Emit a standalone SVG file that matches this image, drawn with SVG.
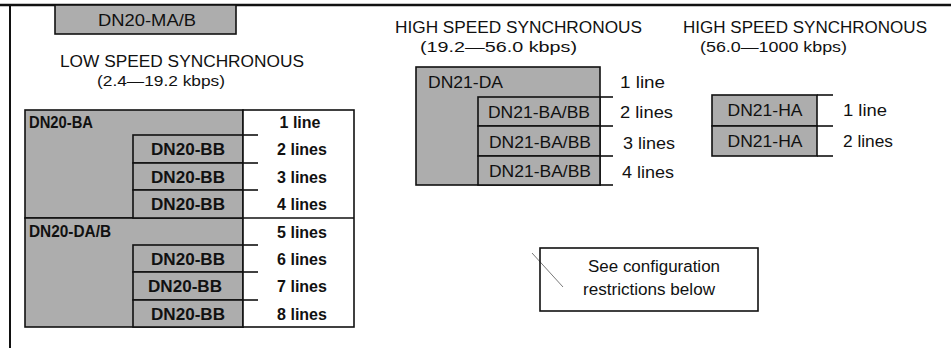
<svg xmlns="http://www.w3.org/2000/svg" width="951" height="348" viewBox="0 0 951 348">
<style>
.g{fill:#adadad;stroke:#111;stroke-width:1.6}
.w{fill:#fff;stroke:#111;stroke-width:1.6}
.ln{stroke:#111;stroke-width:1.6;fill:none}
text{font-family:"Liberation Sans",Arial,sans-serif;fill:#111}
.h{font-size:16px}
.s{font-size:15px}
.b{font-size:16px;font-weight:bold}
.r{font-size:16px}
.c{text-anchor:middle}
</style>
<rect width="951" height="348" fill="#fff"/>
<g id="frame">
<line x1="0" y1="5" x2="951" y2="5" stroke="#111" stroke-width="2.5"/>
<line x1="10" y1="4" x2="10" y2="348" stroke="#111" stroke-width="2"/>
</g>
<g id="dn20-ma">
<rect class="g" x="55" y="5" width="181" height="29"/>
<text class="r c" x="147" y="26" textLength="98" lengthAdjust="spacingAndGlyphs">DN20-MA/B</text>
</g>
<g id="headings">
<text class="h" x="60" y="67" textLength="244" lengthAdjust="spacingAndGlyphs">LOW SPEED SYNCHRONOUS</text>
<text class="s" x="97" y="86" textLength="128" lengthAdjust="spacingAndGlyphs">(2.4—19.2 kbps)</text>
<text class="h" x="395" y="33" textLength="247" lengthAdjust="spacingAndGlyphs">HIGH SPEED SYNCHRONOUS</text>
<text class="s" x="420" y="52" textLength="157" lengthAdjust="spacingAndGlyphs">(19.2—56.0 kbps)</text>
<text class="h" x="683" y="33" textLength="244" lengthAdjust="spacingAndGlyphs">HIGH SPEED SYNCHRONOUS</text>
<text class="s" x="700" y="52" textLength="147" lengthAdjust="spacingAndGlyphs">(56.0—1000 kbps)</text>
</g>
<g id="dn20-ba">
<rect class="g" x="25" y="110" width="218" height="108"/>
<text class="b" x="29" y="128" textLength="64" lengthAdjust="spacingAndGlyphs">DN20-BA</text>
</g>
<g id="dn20-da">
<rect class="g" x="25" y="218" width="218" height="109"/>
<text class="b" x="29" y="237" textLength="82" lengthAdjust="spacingAndGlyphs">DN20-DA/B</text>
</g>
<g id="dn20-bb-1"><rect class="g" x="133" y="135" width="110" height="28"/><text class="b c" x="188" y="155" textLength="74" lengthAdjust="spacingAndGlyphs">DN20-BB</text></g>
<g id="dn20-bb-2"><rect class="g" x="133" y="163" width="110" height="27"/><text class="b c" x="188" y="183" textLength="74" lengthAdjust="spacingAndGlyphs">DN20-BB</text></g>
<g id="dn20-bb-3"><rect class="g" x="133" y="190" width="110" height="28"/><text class="b c" x="188" y="210" textLength="74" lengthAdjust="spacingAndGlyphs">DN20-BB</text></g>
<g id="dn20-bb-4"><rect class="g" x="133" y="245" width="110" height="27"/><text class="b c" x="188" y="265" textLength="74" lengthAdjust="spacingAndGlyphs">DN20-BB</text></g>
<g id="dn20-bb-5"><rect class="g" x="133" y="272" width="110" height="28"/><text class="b c" x="185" y="292" textLength="74" lengthAdjust="spacingAndGlyphs">DN20-BB</text></g>
<g id="dn20-bb-6"><rect class="g" x="133" y="300" width="110" height="27"/><text class="b c" x="188" y="320" textLength="74" lengthAdjust="spacingAndGlyphs">DN20-BB</text></g>
<g id="lines-col">
<rect class="w" x="243" y="110" width="111" height="217"/>
<line class="ln" x1="243" y1="218" x2="354" y2="218"/>
<text class="b c" x="300" y="128">1 line</text>
<text class="b c" x="302" y="155">2 lines</text>
<text class="b c" x="302" y="183">3 lines</text>
<text class="b c" x="302" y="210">4 lines</text>
<text class="b c" x="302" y="238">5 lines</text>
<text class="b c" x="302" y="265">6 lines</text>
<text class="b c" x="302" y="292">7 lines</text>
<text class="b c" x="302" y="320">8 lines</text>
</g>
<g id="dn21-da">
<rect class="g" x="416" y="67" width="184" height="118"/>
<text class="r" x="428" y="88" textLength="75" lengthAdjust="spacingAndGlyphs">DN21-DA</text>
</g>
<g id="dn21-ba-1"><rect class="g" x="478" y="97" width="122" height="29"/><text class="r c" x="539" y="118" textLength="102" lengthAdjust="spacingAndGlyphs">DN21-BA/BB</text></g>
<g id="dn21-ba-2"><rect class="g" x="478" y="126" width="122" height="30"/><text class="r c" x="540" y="148" textLength="102" lengthAdjust="spacingAndGlyphs">DN21-BA/BB</text></g>
<g id="dn21-ba-3"><rect class="g" x="478" y="156" width="122" height="29"/><text class="r c" x="540" y="177" textLength="102" lengthAdjust="spacingAndGlyphs">DN21-BA/BB</text></g>
<g id="dn21-ha-1"><rect class="g" x="712" y="95" width="105" height="31"/><text class="r c" x="765" y="116" textLength="75" lengthAdjust="spacingAndGlyphs">DN21-HA</text></g>
<g id="dn21-ha-2"><rect class="g" x="712" y="126" width="105" height="30"/><text class="r c" x="765" y="147" textLength="75" lengthAdjust="spacingAndGlyphs">DN21-HA</text></g>
<g id="labels-high">
<text class="r" x="620" y="88" textLength="45" lengthAdjust="spacingAndGlyphs">1 line</text>
<text class="r" x="620" y="118" textLength="53" lengthAdjust="spacingAndGlyphs">2 lines</text>
<text class="r" x="623" y="149" textLength="52" lengthAdjust="spacingAndGlyphs">3 lines</text>
<text class="r" x="622" y="178" textLength="52" lengthAdjust="spacingAndGlyphs">4 lines</text>
<text class="r" x="843" y="116" textLength="44" lengthAdjust="spacingAndGlyphs">1 line</text>
<text class="r" x="843" y="147" textLength="50" lengthAdjust="spacingAndGlyphs">2 lines</text>
</g>
<g id="connectors">
<line class="ln" x1="243" y1="135" x2="258" y2="135"/>
<line class="ln" x1="243" y1="163" x2="258" y2="163"/>
<line class="ln" x1="243" y1="190" x2="258" y2="190"/>
<line class="ln" x1="243" y1="245" x2="258" y2="245"/>
<line class="ln" x1="243" y1="272" x2="258" y2="272"/>
<line class="ln" x1="243" y1="300" x2="258" y2="300"/>
<line class="ln" x1="600" y1="97" x2="613" y2="97"/>
<line class="ln" x1="600" y1="126" x2="613" y2="126"/>
<line class="ln" x1="600" y1="156" x2="613" y2="156"/>
<line class="ln" x1="600" y1="185" x2="613" y2="185"/>
<line class="ln" x1="817" y1="95" x2="833" y2="95"/>
<line class="ln" x1="817" y1="126" x2="833" y2="126"/>
<line class="ln" x1="817" y1="156" x2="833" y2="156"/>
<line x1="532" y1="253" x2="563" y2="287" stroke="#555" stroke-width="0.8"/>
</g>
<g id="note">
<rect x="540" y="248" width="218" height="63" fill="none" stroke="#111" stroke-width="1.6"/>
<text class="r c" x="654" y="272" textLength="132" lengthAdjust="spacingAndGlyphs">See configuration</text>
<text class="r c" x="649" y="295" textLength="132" lengthAdjust="spacingAndGlyphs">restrictions below</text>
</g>
</svg>
